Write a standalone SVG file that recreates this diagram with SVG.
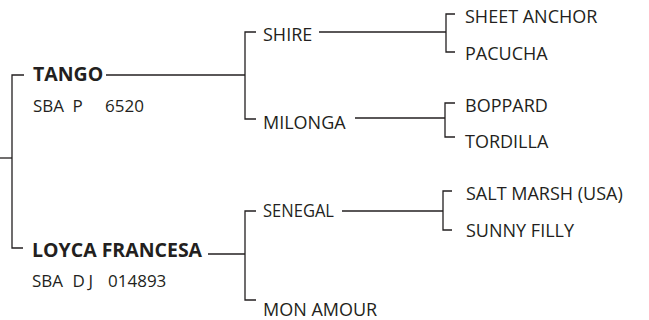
<svg xmlns="http://www.w3.org/2000/svg" width="649" height="320" viewBox="0 0 649 320">
<style>
text{font-family:"Open Sans","Noto Sans","Liberation Sans",sans-serif;fill:#231f20;font-size:18px}
.b{font-weight:bold;font-size:19.5px}
.s{font-size:17px}
#connectors path{fill:none;stroke:#231f20;stroke-width:1.3}
</style>
<rect width="649" height="320" fill="#fff"/>
<g id="connectors">
<path d="M0,158H12"/>
<path d="M24,75H12V248H23"/>
<path d="M106,75H245"/>
<path d="M256,32H245V119H256"/>
<path d="M319,32H446"/>
<path d="M455,14H446V52H455"/>
<path d="M355,118H445"/>
<path d="M455,103H445V137H455"/>
<path d="M208,254H245"/>
<path d="M256,211H245V300H256"/>
<path d="M342,211H443"/>
<path d="M452,191H443V230H452"/>
</g>
<g id="tango"><text class="b" x="33" y="81">TANGO</text><text class="s" y="111.5"><tspan x="33">SBA</tspan><tspan x="72.5">P</tspan><tspan x="105">6520</tspan></text></g>
<g id="loyca"><text class="b" x="32" y="257">LOYCA FRANCESA</text><text class="s" y="287"><tspan x="32">SBA</tspan><tspan x="72.5">D</tspan><tspan x="88.5">J</tspan><tspan x="108">014893</tspan></text></g>
<g id="shire"><text x="263" y="41">SHIRE</text></g>
<g id="milonga"><text x="263" y="129">MILONGA</text></g>
<g id="senegal"><text x="263" y="217" textLength="71" lengthAdjust="spacingAndGlyphs">SENEGAL</text></g>
<g id="monamour"><text x="263" y="316">MON AMOUR</text></g>
<g id="sheetanchor"><text x="465" y="23">SHEET ANCHOR</text></g>
<g id="pacucha"><text x="465" y="60">PACUCHA</text></g>
<g id="boppard"><text x="465" y="112">BOPPARD</text></g>
<g id="tordilla"><text x="465" y="148">TORDILLA</text></g>
<g id="saltmarsh"><text x="466" y="200">SALT MARSH (USA)</text></g>
<g id="sunnyfilly"><text x="466" y="237">SUNNY FILLY</text></g>
</svg>
